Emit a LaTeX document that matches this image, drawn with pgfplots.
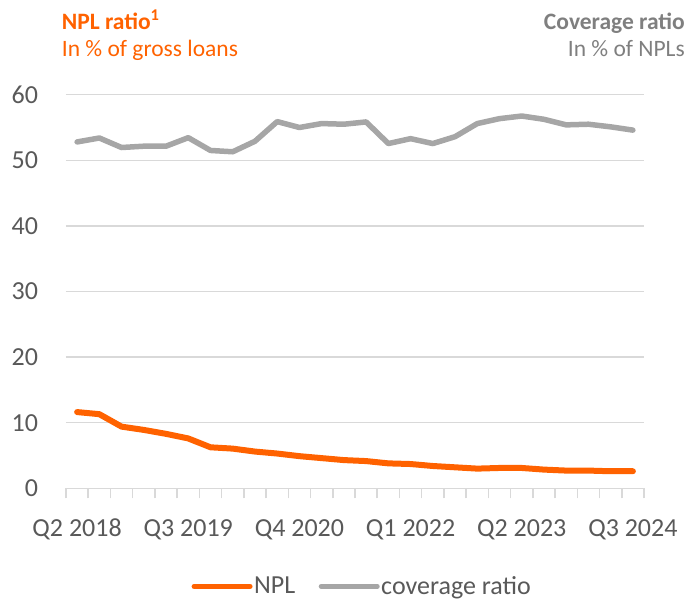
\documentclass[border=0pt]{standalone}
\usepackage{fontspec}
\setmainfont{Carlito}
\usepackage{pgfplots}
\usepackage{pgfplotstable}
\pgfplotsset{compat=1.18}
\definecolor{ingorange}{HTML}{FF6200}
\definecolor{covgray}{HTML}{A6A6A6}
\definecolor{gridgray}{HTML}{D9D9D9}
\definecolor{txtgray}{HTML}{595959}
\definecolor{ttlgray}{HTML}{7F7F7F}
\pgfplotstableread{
idx npl cov
0 11.62 52.80
1 11.30 53.40
2 9.40 51.95
3 8.90 52.15
4 8.30 52.15
5 7.60 53.45
6 6.25 51.50
7 6.05 51.30
8 5.60 52.90
9 5.30 55.90
10 4.90 55.00
11 4.60 55.60
12 4.30 55.50
13 4.15 55.85
14 3.80 52.55
15 3.70 53.30
16 3.40 52.55
17 3.20 53.60
18 3.00 55.60
19 3.10 56.35
20 3.10 56.75
21 2.85 56.25
22 2.70 55.40
23 2.70 55.50
24 2.60 55.10
25 2.60 54.60
}\datatable
\begin{document}
\begin{tikzpicture}
\useasboundingbox (-66pt,-115.7pt) rectangle (621pt,488.3pt);
\begin{axis}[
  at={(0pt,0pt)}, anchor=south west, scale only axis,
  width=578pt, height=393.6pt,
  xmin=-0.5, xmax=25.5, ymin=0, ymax=60,
  ytick={0,10,...,60},
  xtick={0,5,...,25},
  xticklabels={Q2 2018, Q3 2019, Q4 2020, Q1 2022, Q2 2023, Q3 2024},
  minor xtick={-0.5,0.5,...,25.5},
  tick align=outside,
  major tick length=0pt,
  minor tick length=10pt,
  minor tick style={gridgray, line width=1.5pt},
  ymajorgrids,
  major grid style={gridgray, line width=1.5pt},
  axis x line*=bottom, axis y line*=left,
  x axis line style={gridgray, line width=1.5pt, -},
  y axis line style={draw=none},
  tick label style={font=\fontsize{26}{30}\selectfont, text=txtgray},
  /pgf/number format/assume math mode=true,
  xticklabel style={anchor=base, inner sep=0pt, yshift=-48.4pt},
  yticklabel style={anchor=east, inner sep=0pt, xshift=-27.7pt},
  legend style={at={(0.512,-0.215)}, anchor=north, draw=none, fill=none,
    font=\fontsize{26}{30}\selectfont, text=txtgray,
    nodes={inner sep=1.5pt},
    /tikz/every even column/.append style={column sep=22pt}},
  legend columns=2,
  legend cell align=left,
  legend image code/.code={\draw[#1, line width=5pt] (0pt,0pt) -- (56pt,0pt);},
]
\addplot[ingorange, line width=6pt, line join=round, line cap=round] table[x=idx, y=npl] {\datatable};
\addlegendentry{NPL}
\addplot[covgray, line width=5.5pt, line join=round, line cap=round] table[x=idx, y=cov] {\datatable};
\addlegendentry{coverage ratio}
\end{axis}
\node[anchor=base west, inner sep=0pt, text=ingorange, font=\fontsize{23.5}{28}\selectfont\bfseries] at (-4.3pt,458.3pt) {NPL ratio\textsuperscript{1}};
\node[anchor=base west, inner sep=0pt, text=ingorange, font=\fontsize{23.5}{28}\selectfont] at (-4.3pt,431.6pt) {In \% of gross loans};
\node[anchor=base east, inner sep=0pt, text=ttlgray, font=\fontsize{23.5}{28}\selectfont\bfseries] at (619pt,458.3pt) {Coverage ratio};
\node[anchor=base east, inner sep=0pt, text=ttlgray, font=\fontsize{23.5}{28}\selectfont] at (619pt,431.6pt) {In \% of NPLs};
\end{tikzpicture}
\end{document}
